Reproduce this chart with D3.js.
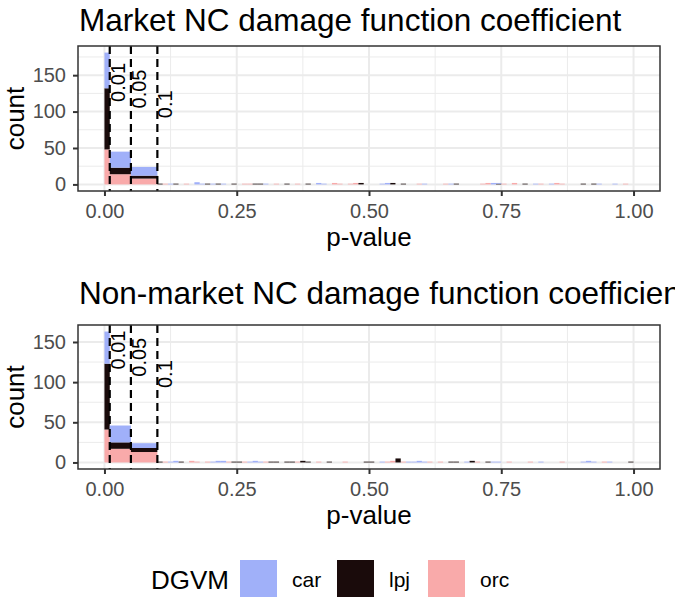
<!DOCTYPE html>
<html><head><meta charset="utf-8">
<script src="https://cdn.jsdelivr.net/npm/d3@7"></script>
<style>
body{margin:0;background:#fff}
text{font-family:"Liberation Sans",Arial,Helvetica,sans-serif}
</style>
</head><body>
<svg id="c" width="675" height="600"></svg>
<script>
// ---------------- data ----------------
const seriesNames = ["car", "lpj", "orc"];
const seriesColors = ["#A0B0F9", "#1A0B0B", "#F9AAAA"];
const panelTitles = ["Market NC damage function coefficient", "Non-market NC damage function coefficient"];
const xTicks = [0, 0.25, 0.5, 0.75, 1.0];
const yTicks = [0, 50, 100, 150];
const thresholds = [0.01, 0.05, 0.1];
const thresholdLabels = ["0.01", "0.05", "0.1"];
const thresholdLabelY = [140, 131, 110];
// bins: [0,0.01], [0.01,0.05], [0.05,0.1], then 0.01-wide bins up to 1.0
const headBreaks = [0, 0.01, 0.05, 0.1];
const tailStart = 0.1, tailWidth = 0.01, tailCount = 90;

// Panel 1 (market) counts
const car1Head = [49, 22, 12];
const lpj1Head = [84, 9, 4];
const orc1Head = [48, 14, 8];
const car1Tail = [0,0,1,0,0,0,0,3,1,0, 1,0,1,0,0,0,0,0,0,0, 1,0,0,0,0,0,0,0,0,0,
                  2,1,0,0,0,0,0,0,0,0, 0,0,1,2,0,0,0,0,0,0, 1,0,0,0,0,1,0,0,0,0,
                  0,0,0,2,1,0,0,0,0,0, 0,1,0,0,1,0,0,0,0,0, 0,0,0,1,0,0,1,0,0,0];
const lpj1Tail = [1,0,0,1,0,0,0,0,0,1, 0,1,0,0,1,0,0,0,1,1, 0,0,0,0,1,0,0,0,1,0,
                  0,0,0,0,0,0,0,0,2,0, 0,0,0,0,2,0,1,0,0,0, 0,0,0,0,0,0,1,0,0,0,
                  0,0,0,0,1,0,0,0,0,1, 0,0,0,0,0,0,0,0,0,0, 1,0,1,0,0,0,0,0,0,0];
const orc1Tail = [0,1,0,0,0,1,0,0,0,0, 0,0,0,0,0,0,1,1,0,0, 0,0,1,0,0,0,1,0,0,0,
                  0,0,0,2,1,0,1,2,0,0, 0,0,0,0,0,0,0,0,0,1, 0,0,0,0,1,0,0,0,0,0,
                  0,1,2,0,0,1,0,2,0,0, 0,0,1,0,0,2,1,0,0,0, 0,0,0,0,0,0,0,0,1,0];

// Panel 2 (non-market) counts
const car2Head = [40, 21, 6];
const lpj2Head = [82, 8, 5];
const orc2Head = [41, 17, 13];
const car2Tail = [0,0,1,2,0,0,0,0,0,0, 1,2,2,0,0,0,0,1,2,1, 0,0,0,0,0,0,0,0,0,0,
                  0,0,0,0,0,0,0,0,0,0, 0,0,1,0,0,0,0,1,1,2, 1,0,0,0,0,0,0,0,1,0,
                  0,0,0,1,1,0,0,0,0,0, 0,0,1,0,0,0,0,0,0,0, 1,2,1,0,0,1,0,0,0,0];
const lpj2Tail = [1,0,0,0,1,0,0,0,0,0, 0,0,0,0,1,1,0,0,0,0, 0,1,1,0,1,1,0,2,1,0,
                  0,0,1,0,0,0,0,0,0,1, 1,0,0,0,0,5,0,0,0,0, 0,0,0,0,0,1,1,0,0,2,
                  0,0,1,0,0,0,0,0,0,0, 0,0,0,0,0,0,0,0,0,0, 0,0,0,0,0,0,0,0,0,1];
const orc2Tail = [0,1,0,0,0,0,2,1,0,1, 0,0,0,1,0,0,1,0,0,0, 1,0,0,0,0,0,1,0,0,0,
                  1,0,0,0,0,1,0,0,0,0, 0,0,0,1,2,0,1,0,0,0, 0,1,0,1,0,0,0,0,0,0,
                  1,0,0,0,0,0,1,0,0,0, 1,0,0,0,0,0,1,0,0,0, 0,0,0,0,1,0,0,0,0,0];

// ---------------- build ----------------
function buildRows(carH, lpjH, orcH, carT, lpjT, orcT) {
  const rows = [];
  for (let i = 0; i < headBreaks.length - 1; i++)
    rows.push({x0: headBreaks[i], x1: headBreaks[i + 1], car: carH[i], lpj: lpjH[i], orc: orcH[i]});
  for (let i = 0; i < tailCount; i++) {
    const a = +(tailStart + i * tailWidth).toFixed(4);
    rows.push({x0: a, x1: +(a + tailWidth).toFixed(4), car: carT[i], lpj: lpjT[i], orc: orcT[i]});
  }
  return rows;
}
const panels = [
  {title: panelTitles[0], rows: buildRows(car1Head, lpj1Head, orc1Head, car1Tail, lpj1Tail, orc1Tail),
   top: 46, bottom: 191, titleY: 31, xTitleY: 246},
  {title: panelTitles[1], rows: buildRows(car2Head, lpj2Head, orc2Head, car2Tail, lpj2Tail, orc2Tail),
   top: 325, bottom: 469, titleY: 304, xTitleY: 524}
];

const svg = d3.select("#c");
const L = 78, R = 660;
const x = d3.scaleLinear().domain([-0.05, 1.05]).range([L, R]);
const color = d3.scaleOrdinal().domain(seriesNames).range(seriesColors);
const stack = d3.stack().keys(["orc", "lpj", "car"]);

panels.forEach(p => {
  const stacked = stack(p.rows);
  const M = d3.max(p.rows, r => r.car + r.lpj + r.orc);
  const y = d3.scaleLinear().domain([-0.05 * M, 1.05 * M]).range([p.bottom, p.top]);
  const g = svg.append("g");

  g.append("rect").attr("x", L).attr("y", p.top).attr("width", R - L).attr("height", p.bottom - p.top).attr("fill", "#fff");
  const xMinor = [0.125, 0.375, 0.625, 0.875];
  const yMinor = [25, 75, 125, 175].filter(v => y(v) > p.top);
  g.selectAll(".xmin").data(xMinor).join("line").attr("x1", d => x(d)).attr("x2", d => x(d))
    .attr("y1", p.top).attr("y2", p.bottom).attr("stroke", "#EBEBEB").attr("stroke-width", 1);
  g.selectAll(".ymin").data(yMinor).join("line").attr("y1", d => y(d)).attr("y2", d => y(d))
    .attr("x1", L).attr("x2", R).attr("stroke", "#EBEBEB").attr("stroke-width", 1);
  g.selectAll(".xmaj").data(xTicks).join("line").attr("x1", d => x(d)).attr("x2", d => x(d))
    .attr("y1", p.top).attr("y2", p.bottom).attr("stroke", "#EBEBEB").attr("stroke-width", 2);
  g.selectAll(".ymaj").data(yTicks).join("line").attr("y1", d => y(d)).attr("y2", d => y(d))
    .attr("x1", L).attr("x2", R).attr("stroke", "#EBEBEB").attr("stroke-width", 2);

  stacked.forEach(layer => {
    g.append("g").attr("fill", color(layer.key))
      .selectAll("rect").data(layer.filter(d => d[1] > d[0])).join("rect")
      .attr("x", d => x(d.data.x0)).attr("width", d => x(d.data.x1) - x(d.data.x0))
      .attr("y", d => y(d[1])).attr("height", d => y(d[0]) - y(d[1]));
  });

  g.selectAll(".thr").data(thresholds).join("line")
    .attr("x1", d => x(d)).attr("x2", d => x(d)).attr("y1", p.top).attr("y2", p.bottom)
    .attr("stroke", "#000").attr("stroke-width", 2.2).attr("stroke-dasharray", "8,5");
  g.selectAll(".thrl").data(thresholds).join("text")
    .attr("transform", (d, i) => `translate(${x(d) + 15},${y(thresholdLabelY[i])}) rotate(-90)`)
    .attr("text-anchor", "middle").attr("font-size", 20).attr("fill", "#000")
    .text((d, i) => thresholdLabels[i]);

  g.append("rect").attr("x", L).attr("y", p.top).attr("width", R - L).attr("height", p.bottom - p.top)
    .attr("fill", "none").attr("stroke", "#333").attr("stroke-width", 1.5);

  const ax = g.append("g").attr("transform", `translate(0,${p.bottom})`)
    .call(d3.axisBottom(x).tickValues(xTicks).tickFormat(d3.format(".2f")).tickSize(5).tickPadding(8));
  const ay = g.append("g").attr("transform", `translate(${L},0)`)
    .call(d3.axisLeft(y).tickValues(yTicks).tickSize(5).tickPadding(7));
  [ax, ay].forEach(a => {
    a.select(".domain").remove();
    a.selectAll(".tick line").attr("stroke", "#333").attr("stroke-width", 2);
    a.selectAll(".tick text").attr("fill", "#4D4D4D").attr("font-size", 20)
      .attr("font-family", '"Liberation Sans",Arial,sans-serif');
  });

  g.append("text").attr("x", L + 1).attr("y", p.titleY).attr("font-size", 31.5).attr("fill", "#000").text(p.title);
  g.append("text").attr("x", (L + R) / 2).attr("y", p.xTitleY).attr("text-anchor", "middle")
    .attr("font-size", 26).attr("fill", "#000").text("p-value");
  g.append("text").attr("transform", `translate(24,${(p.top + p.bottom) / 2}) rotate(-90)`)
    .attr("text-anchor", "middle").attr("font-size", 26).attr("fill", "#000").text("count");
});

const lg = svg.append("g");
lg.append("text").attr("x", 151).attr("y", 589).attr("font-size", 26).attr("fill", "#000").text("DGVM");
const keyX = [240, 337, 428];
seriesNames.forEach((s, i) => {
  lg.append("rect").attr("x", keyX[i]).attr("y", 560).attr("width", 37).attr("height", 37).attr("fill", color(s));
  lg.append("text").attr("x", keyX[i] + 52).attr("y", 587).attr("font-size", 21).attr("fill", "#000").text(s);
});
</script>
</body></html>
